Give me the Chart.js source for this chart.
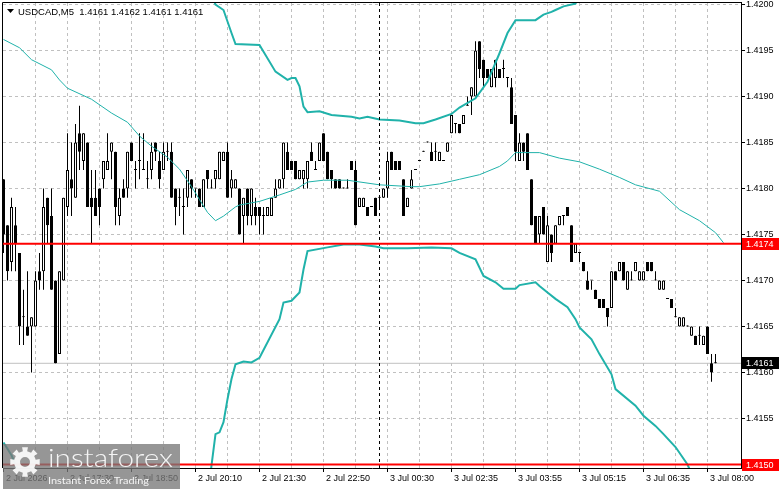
<!DOCTYPE html>
<html>
<head>
<meta charset="utf-8">
<script src="https://cdn.jsdelivr.net/npm/chart.js@4.4.1/dist/chart.umd.min.js"></script>
<style>
  html, body { margin: 0; padding: 0; background: #fff; }
  canvas { display: block; }
</style>
</head>
<body>
<canvas id="chart" width="781" height="489"></canvas>
<script>
// header and axis labels
const chartTitle = 'USDCAD,M5  1.4161 1.4162 1.4161 1.4161';
const timeLabels = ['2 Jul 2026', '2 Jul 17:30', '2 Jul 18:50', '2 Jul 20:10', '2 Jul 21:30', '2 Jul 22:50',
  '3 Jul 00:30', '3 Jul 02:35', '3 Jul 03:55', '3 Jul 05:15', '3 Jul 06:35', '3 Jul 08:00'];
const labelBars = [0, 16, 32, 48, 64, 80, 96, 112, 128, 144, 160, 176];
const gridBars = [0, 8, 16, 24, 32, 40, 48, 56, 64, 72, 80, 88, 96, 104, 112, 120, 128, 136, 144, 152, 160, 168, 176];
const priceTicks = [1.4150, 1.4155, 1.4160, 1.4165, 1.4170, 1.4175, 1.4180, 1.4185, 1.4190, 1.4195, 1.4200];

// M5 candles, bar 0 = 2 Jul 16:10
const open = [
  1.4181, 1.4176, 1.4172, 1.4176, 1.4173, 1.4166, 1.4165, 1.4165, 1.4165, 1.4171,
  1.4171, 1.4179, 1.4177, 1.4170, 1.4162, 1.4170, 1.4178, 1.4181, 1.4179, 1.4186,
  1.4183, 1.4185, 1.4179, 1.4179, 1.4180, 1.4181, 1.4182, 1.4184, 1.4184, 1.4177,
  1.4180, 1.4180, 1.4185, 1.4182, 1.4183, 1.4182, 1.4181, 1.4182, 1.4185, 1.4183,
  1.4182, 1.4184, 1.4184, 1.4180, 1.4179, 1.4178, 1.4179, 1.4181, 1.4180, 1.4180,
  1.4178, 1.4182, 1.4180, 1.4181, 1.4181, 1.4183, 1.4184, 1.4180, 1.4180, 1.4180,
  1.4177, 1.4180, 1.4177, 1.4178, 1.4178, 1.4177, 1.4177, 1.4177, 1.4179, 1.4180,
  1.4181, 1.4184, 1.4183, 1.4183, 1.4181, 1.4181, 1.4181, 1.4184, 1.4182, 1.4183,
  1.4186, 1.4184, 1.4182, 1.4181, 1.4181, 1.4180, 1.4180, 1.4183, 1.4182, 1.4178,
  1.4178, 1.4178, 1.4178, 1.4179, 1.4179, 1.4179, 1.4180, 1.4184, 1.4183, 1.4183,
  1.4181, 1.4178, 1.4180, 1.4182, 1.4183, 1.4184, 1.4185, 1.4184, 1.4184, 1.4183,
  1.4183, 1.4184, 1.4186, 1.4187, 1.4187, 1.4187, 1.4189, 1.4190, 1.4190, 1.4196,
  1.4194, 1.4193, 1.4191, 1.4192, 1.4193, 1.4193, 1.4192, 1.4191, 1.4188, 1.4183,
  1.4185, 1.4186, 1.4181, 1.4177, 1.4175, 1.4178, 1.4172, 1.4175, 1.4174, 1.4176,
  1.4177, 1.4178, 1.4176, 1.4173, 1.4173, 1.4172, 1.4170, 1.4170, 1.4169, 1.4168,
  1.4168, 1.4167, 1.4167, 1.4171, 1.4171, 1.4172, 1.4169, 1.4170, 1.4171, 1.4170,
  1.4170, 1.4172, 1.4172, 1.4170, 1.4169, 1.4169, 1.4168, 1.4168, 1.4166, 1.4165,
  1.4165, 1.4165, 1.4164, 1.4164, 1.4164, 1.4163, 1.4165, 1.4161, 1.4161
];
const high = [
  1.4181, 1.4176, 1.4179, 1.4178, 1.4173, 1.4169, 1.4171, 1.4166, 1.4171, 1.4173,
  1.4180, 1.4179, 1.4180, 1.4170, 1.4171, 1.4179, 1.4186, 1.4185, 1.4187, 1.4189,
  1.4186, 1.4185, 1.4182, 1.4182, 1.4180, 1.4183, 1.4186, 1.4185, 1.4184, 1.4180,
  1.4181, 1.4184, 1.4185, 1.4183, 1.4186, 1.4186, 1.4183, 1.4185, 1.4185, 1.4184,
  1.4185, 1.4185, 1.4185, 1.4180, 1.4180, 1.4180, 1.4182, 1.4181, 1.4180, 1.4180,
  1.4181, 1.4182, 1.4181, 1.4182, 1.4184, 1.4184, 1.4185, 1.4182, 1.4181, 1.4180,
  1.4179, 1.4180, 1.4180, 1.4179, 1.4178, 1.4178, 1.4178, 1.4179, 1.4181, 1.4181,
  1.4185, 1.4185, 1.4183, 1.4183, 1.4182, 1.4182, 1.4183, 1.4185, 1.4183, 1.4185,
  1.4186, 1.4184, 1.4182, 1.4181, 1.4181, 1.4180, 1.4181, 1.4183, 1.4183, 1.4179,
  1.4179, 1.4178, 1.4178, 1.4179, 1.4179, 1.4180, 1.4184, 1.4184, 1.4183, 1.4183,
  1.4181, 1.4179, 1.4182, 1.4182, 1.4183, 1.4184, 1.4185, 1.4185, 1.4185, 1.4184,
  1.4183, 1.4185, 1.4188, 1.4187, 1.4187, 1.4188, 1.4190, 1.4191, 1.4196, 1.4196,
  1.4194, 1.4193, 1.4193, 1.4194, 1.4193, 1.4194, 1.4192, 1.4192, 1.4188, 1.4186,
  1.4185, 1.4186, 1.4181, 1.4177, 1.4177, 1.4178, 1.4177, 1.4175, 1.4176, 1.4177,
  1.4177, 1.4178, 1.4176, 1.4174, 1.4173, 1.4172, 1.4171, 1.4170, 1.4169, 1.4168,
  1.4168, 1.4167, 1.4171, 1.4171, 1.4172, 1.4172, 1.4171, 1.4171, 1.4172, 1.4171,
  1.4171, 1.4172, 1.4172, 1.4171, 1.4170, 1.4170, 1.4168, 1.4168, 1.4167, 1.4166,
  1.4166, 1.4165, 1.4165, 1.4164, 1.4165, 1.4164, 1.4165, 1.4162, 1.4162
];
const low = [
  1.4173, 1.4170, 1.4171, 1.4171, 1.4163, 1.4163, 1.4164, 1.4160, 1.4165, 1.4169,
  1.4169, 1.4174, 1.4169, 1.4161, 1.4162, 1.4170, 1.4177, 1.4177, 1.4179, 1.4182,
  1.4182, 1.4178, 1.4174, 1.4177, 1.4176, 1.4180, 1.4182, 1.4181, 1.4176, 1.4176,
  1.4179, 1.4179, 1.4183, 1.4180, 1.4181, 1.4182, 1.4180, 1.4181, 1.4183, 1.4180,
  1.4182, 1.4183, 1.4179, 1.4176, 1.4177, 1.4175, 1.4178, 1.4179, 1.4179, 1.4178,
  1.4178, 1.4180, 1.4180, 1.4180, 1.4181, 1.4183, 1.4179, 1.4179, 1.4180, 1.4175,
  1.4174, 1.4176, 1.4176, 1.4176, 1.4175, 1.4175, 1.4177, 1.4177, 1.4179, 1.4180,
  1.4180, 1.4182, 1.4182, 1.4181, 1.4181, 1.4180, 1.4180, 1.4183, 1.4182, 1.4183,
  1.4183, 1.4181, 1.4180, 1.4180, 1.4180, 1.4180, 1.4180, 1.4182, 1.4176, 1.4178,
  1.4178, 1.4177, 1.4178, 1.4177, 1.4178, 1.4179, 1.4179, 1.4182, 1.4182, 1.4182,
  1.4177, 1.4178, 1.4180, 1.4182, 1.4183, 1.4184, 1.4185, 1.4183, 1.4183, 1.4183,
  1.4183, 1.4184, 1.4186, 1.4186, 1.4186, 1.4187, 1.4189, 1.4188, 1.4190, 1.4192,
  1.4191, 1.4192, 1.4191, 1.4191, 1.4192, 1.4192, 1.4191, 1.4187, 1.4183, 1.4183,
  1.4183, 1.4182, 1.4176, 1.4174, 1.4174, 1.4175, 1.4172, 1.4172, 1.4174, 1.4176,
  1.4176, 1.4177, 1.4172, 1.4173, 1.4172, 1.4171, 1.4169, 1.4169, 1.4168, 1.4167,
  1.4167, 1.4165, 1.4167, 1.4170, 1.4171, 1.4170, 1.4169, 1.4170, 1.4171, 1.4170,
  1.4170, 1.4171, 1.4171, 1.4170, 1.4169, 1.4169, 1.4168, 1.4167, 1.4166, 1.4165,
  1.4165, 1.4165, 1.4164, 1.4163, 1.4163, 1.4163, 1.4162, 1.4159, 1.4161
];
const close = [
  1.4175, 1.4171, 1.4178, 1.4174, 1.4165, 1.4166, 1.4164, 1.4166, 1.4170, 1.4170,
  1.4178, 1.4176, 1.4169, 1.4161, 1.4171, 1.4179, 1.4182, 1.4180, 1.4185, 1.4184,
  1.4186, 1.4178, 1.4178, 1.4177, 1.4178, 1.4183, 1.4183, 1.4185, 1.4178, 1.4179,
  1.4179, 1.4184, 1.4183, 1.4182, 1.4183, 1.4182, 1.4181, 1.4184, 1.4184, 1.4181,
  1.4184, 1.4184, 1.4179, 1.4178, 1.4179, 1.4178, 1.4182, 1.4180, 1.4180, 1.4178,
  1.4181, 1.4181, 1.4180, 1.4182, 1.4184, 1.4184, 1.4179, 1.4181, 1.4181, 1.4175,
  1.4179, 1.4177, 1.4180, 1.4177, 1.4177, 1.4177, 1.4178, 1.4179, 1.4180, 1.4181,
  1.4185, 1.4182, 1.4182, 1.4181, 1.4182, 1.4182, 1.4183, 1.4183, 1.4182, 1.4185,
  1.4183, 1.4181, 1.4181, 1.4180, 1.4180, 1.4180, 1.4180, 1.4182, 1.4176, 1.4179,
  1.4179, 1.4177, 1.4178, 1.4177, 1.4179, 1.4180, 1.4183, 1.4182, 1.4182, 1.4182,
  1.4177, 1.4179, 1.4181, 1.4182, 1.4183, 1.4184, 1.4185, 1.4183, 1.4184, 1.4184,
  1.4183, 1.4185, 1.4188, 1.4187, 1.4186, 1.4188, 1.4189, 1.4191, 1.4195, 1.4193,
  1.4192, 1.4192, 1.4193, 1.4194, 1.4192, 1.4193, 1.4192, 1.4187, 1.4184, 1.4185,
  1.4184, 1.4182, 1.4176, 1.4174, 1.4177, 1.4175, 1.4176, 1.4173, 1.4176, 1.4177,
  1.4177, 1.4177, 1.4172, 1.4174, 1.4173, 1.4171, 1.4169, 1.4170, 1.4168, 1.4167,
  1.4167, 1.4166, 1.4171, 1.4170, 1.4172, 1.4170, 1.4171, 1.4170, 1.4172, 1.4171,
  1.4171, 1.4171, 1.4171, 1.4170, 1.4170, 1.4170, 1.4168, 1.4167, 1.4166, 1.4166,
  1.4166, 1.4165, 1.4165, 1.4163, 1.4164, 1.4164, 1.4162, 1.4160, 1.4161
];

// Bollinger bands, read at bar positions
const upperBar = [52, 53, 55, 57, 58, 64, 68, 71, 72, 73, 74, 75, 76, 79, 82, 87, 89, 91, 94, 99,
  103, 105, 108, 112, 114, 118, 121, 124, 126, 128, 133, 135, 137, 138, 140, 143, 145];
const upperVal = [1.4201, 1.4200, 1.41994, 1.41969, 1.41957, 1.41956, 1.41927, 1.41918, 1.4192, 1.4192,
  1.41911, 1.41889, 1.41883, 1.41884, 1.4188, 1.41878, 1.41876, 1.41878, 1.41875, 1.41874,
  1.41871, 1.41871, 1.41875, 1.41881, 1.41888, 1.41898, 1.41916, 1.41947, 1.41969, 1.41983,
  1.41983, 1.41989, 1.41992, 1.41994, 1.41998, 1.42001, 1.4202];
const middleBar = [0, 4, 7, 12, 14, 16, 22, 27, 31, 34, 37, 41, 44, 47, 49, 51, 53, 55, 58, 59,
  64, 69, 73, 76, 80, 86, 94, 102, 104, 109, 114, 119, 124, 126, 128, 130, 134, 139, 144, 149,
  154, 158, 164, 169, 174, 178, 180];
const middleVal = [1.41962, 1.41953, 1.4194, 1.41929, 1.41918, 1.41909, 1.41897, 1.41882, 1.41872, 1.41857,
  1.41846, 1.41834, 1.41821, 1.41802, 1.41788, 1.41774, 1.41765, 1.4177, 1.4178, 1.41782,
  1.41786, 1.41793, 1.41799, 1.41807, 1.41809, 1.41809, 1.41804, 1.41802, 1.41802, 1.41805,
  1.4181, 1.41815, 1.41824, 1.4183, 1.41839, 1.41839, 1.41839, 1.41833, 1.41829, 1.41821,
  1.41812, 1.41804, 1.41797, 1.41777, 1.41765, 1.41752, 1.41741];
const lowerBar = [0, 2, 4, 51, 52, 53, 54, 55, 56, 57, 58, 60, 62, 64, 69, 70, 72, 74, 75, 76,
  81, 85, 89, 93, 95, 101, 107, 112, 114, 118, 120, 123, 125, 128, 129, 133, 134, 136, 138, 141,
  143, 144, 147, 149, 152, 153, 158, 160, 163, 165, 168, 171, 174];
const lowerVal = [1.41524, 1.4151, 1.4149, 1.4146, 1.41499, 1.41533, 1.41535, 1.41546, 1.41571, 1.41593,
  1.41609, 1.41612, 1.41611, 1.41616, 1.41658, 1.41676, 1.41678, 1.41687, 1.41712, 1.41732,
  1.41736, 1.41739, 1.41739, 1.41737, 1.41735, 1.41735, 1.41736, 1.41735, 1.4173, 1.41723,
  1.41705, 1.41698, 1.41691, 1.41691, 1.41695, 1.41698, 1.41694, 1.41687, 1.4168, 1.41671,
  1.41658, 1.41649, 1.41636, 1.4162, 1.41598, 1.41582, 1.41564, 1.41553, 1.41542, 1.41533,
  1.41519, 1.415, 1.4147];

// horizontal levels, bid and the vertical line
const levelPrices = [1.4174, 1.4150];
const bidPrice = 1.4161;
const markerBar = 94;

const xMin = -0.125, xMax = 184.375;
const yMin = 1.414962, yMax = 1.4200163;

const bandColor = '#20b2aa';
const bars = open.map((_, i) => i);
const pts = (xs, ys) => xs.map((x, i) => ({ x: x, y: ys[i] }));

const mtDecor = {
  id: 'mtDecor',
  afterDraw(chart) {
    const { ctx, chartArea: a, scales: { y } } = chart;
    ctx.save();
    // frame
    ctx.strokeStyle = '#000';
    ctx.lineWidth = 1;
    ctx.beginPath();
    ctx.moveTo(a.left - 0.5, a.bottom);
    ctx.lineTo(a.left - 0.5, a.top - 0.5);
    ctx.lineTo(a.right + 1, a.top - 0.5);
    ctx.stroke();

    // price boxes on the axis
    const box = (price, bg) => {
      const py = Math.round(y.getPixelForValue(price));
      ctx.fillStyle = bg;
      ctx.fillRect(a.right + 1, py - 6, 37, 12);
      ctx.fillStyle = '#fff';
      ctx.font = '9px "Liberation Sans"';
      ctx.textBaseline = 'middle';
      ctx.textAlign = 'left';
      ctx.fillText(price.toFixed(4), a.right + 5, py + 0.5);
    };
    box(bidPrice, '#000');
    levelPrices.forEach(p => box(p, '#ff0000'));

    // header
    ctx.fillStyle = '#000';
    ctx.beginPath();
    ctx.moveTo(7, 9); ctx.lineTo(14, 9); ctx.lineTo(10.5, 13); ctx.closePath();
    ctx.fill();
    ctx.font = '9.5px "Liberation Sans"';
    ctx.textBaseline = 'alphabetic';
    ctx.fillText(chartTitle, 18, 14.5);

    // watermark
    ctx.fillStyle = 'rgba(120,120,120,0.78)';
    ctx.fillRect(3, 444, 177, 45);
    ctx.fillStyle = 'rgba(255,255,255,0.9)';
    const cx = 25, cy = 462;
    ctx.beginPath();
    for (let i = 0; i < 16; i++) {
      const ang = i * Math.PI / 8 - Math.PI / 16;
      const r = i % 2 === 0 ? 15 : 11;
      const ang2 = ang + Math.PI / 8;
      ctx.lineTo(cx + r * Math.cos(ang), cy + r * Math.sin(ang));
      ctx.lineTo(cx + r * Math.cos(ang2), cy + r * Math.sin(ang2));
    }
    ctx.closePath();
    ctx.moveTo(cx + 5, cy);
    ctx.arc(cx, cy, 5, 0, Math.PI * 2, true);
    ctx.fill('evenodd');
    const stretch = (txt, font, x, base, w) => {
      ctx.font = font;
      const m = ctx.measureText(txt).width;
      ctx.save();
      ctx.translate(x, base);
      ctx.scale(w / m, 1);
      ctx.fillText(txt, 0, 0);
      ctx.restore();
    };
    stretch('instaforex', '300 26px Lato', 48, 467, 125);
    stretch('Instant Forex Trading', '10px Lato', 48, 484, 101);
    ctx.restore();
  }
};

new Chart(document.getElementById('chart'), {
  type: 'bar',
  data: {
    datasets: [
      {
        type: 'line', order: 2,
        data: [{ x: markerBar, y: yMin }, { x: markerBar, y: yMax }],
        borderColor: '#000', borderWidth: 1, borderDash: [3, 3], pointRadius: 0
      },
      ...levelPrices.map(p => ({
        type: 'line', order: 1,
        data: [{ x: xMin, y: p }, { x: xMax, y: p }],
        borderColor: '#ff0000', borderWidth: 2, pointRadius: 0
      })),
      {
        type: 'line', order: 8,
        data: [{ x: xMin, y: bidPrice }, { x: xMax, y: bidPrice }],
        borderColor: '#c0c0c0', borderWidth: 1, pointRadius: 0
      },
      {
        type: 'line', order: 3, data: pts(upperBar, upperVal),
        borderColor: bandColor, borderWidth: 2, pointRadius: 0, tension: 0
      },
      {
        type: 'line', order: 3, data: pts(middleBar, middleVal),
        borderColor: bandColor, borderWidth: 1, pointRadius: 0, tension: 0
      },
      {
        type: 'line', order: 3, data: pts(lowerBar, lowerVal),
        borderColor: bandColor, borderWidth: 2, pointRadius: 0, tension: 0
      },
      {
        order: 5, grouped: false,
        data: bars.map(i => ({ x: i, y: [open[i], close[i]] })),
        backgroundColor: bars.map(i => close[i] > open[i] ? '#ffffff' : '#000000'),
        borderColor: '#000', borderWidth: 1, borderSkipped: false,
        barThickness: 3, minBarLength: 1, inflateAmount: 0
      },
      {
        order: 6, grouped: false,
        data: bars.map(i => ({ x: i, y: [low[i], high[i]] })),
        backgroundColor: '#000', borderWidth: 0,
        barThickness: 1, minBarLength: 1, inflateAmount: 0
      }
    ]
  },
  options: {
    responsive: false,
    devicePixelRatio: 1,
    animation: false,
    events: [],
    layout: { padding: { top: 3, left: 3, right: 0, bottom: 0 } },
    plugins: { legend: { display: false }, tooltip: { enabled: false } },
    scales: {
      x: {
        type: 'linear', min: xMin, max: xMax, offset: false,
        afterBuildTicks: s => { s.ticks = gridBars.map(v => ({ value: v })); },
        afterFit: s => { s.height = 21; s.paddingLeft = 0; s.paddingRight = 0; },
        grid: {
          offset: false, lineWidth: 1, drawTicks: true, tickLength: 4, tickWidth: 1,
          color: c => (c.tick && c.tick.value === 0) ? 'rgba(0,0,0,0)' : '#c0c0c0',
          tickColor: c => (c.tick && labelBars.includes(c.tick.value)) ? '#000' : 'rgba(0,0,0,0)'
        },
        border: { display: true, color: '#000', width: 1, dash: [3, 3] },
        ticks: {
          autoSkip: false, maxRotation: 0, minRotation: 0, align: 'start', padding: 1,
          color: '#000', font: { family: 'Liberation Sans', size: 9 },
          callback: v => { const j = labelBars.indexOf(v); return j >= 0 ? ' ' + timeLabels[j] : ''; }
        }
      },
      y: {
        type: 'linear', position: 'right', min: yMin, max: yMax,
        afterBuildTicks: s => { s.ticks = priceTicks.map(v => ({ value: v })); },
        afterFit: s => { s.width = 40; s.paddingTop = 0; s.paddingBottom = 0; },
        grid: { color: '#c0c0c0', lineWidth: 1, drawTicks: true, tickLength: 4, tickColor: '#000' },
        border: { display: true, color: '#000', width: 1, dash: [3, 3] },
        ticks: {
          padding: 1, color: '#000', font: { family: 'Liberation Sans', size: 9 },
          callback: v => v.toFixed(4)
        }
      }
    }
  },
  plugins: [mtDecor]
});
</script>
</body>
</html>
